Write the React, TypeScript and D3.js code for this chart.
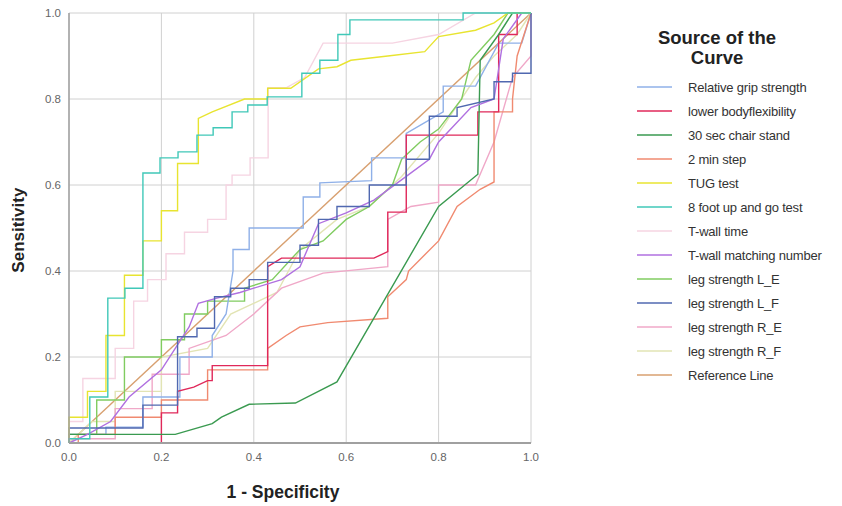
import * as d3 from "d3";

// ROC curves, [1 - specificity, sensitivity]
const gripStrength = [[0,0],[0,0.02],[0.08,0.02],[0.08,0.037],[0.16,0.037],[0.16,0.107],[0.24,0.107],[0.24,0.2],[0.31,0.2],[0.31,0.25],[0.34,0.3],[0.355,0.4],[0.355,0.45],[0.39,0.45],[0.39,0.5],[0.507,0.5],[0.507,0.572],[0.543,0.572],[0.543,0.605],[0.655,0.61],[0.655,0.663],[0.73,0.663],[0.73,0.72],[0.81,0.77],[0.81,0.83],[0.88,0.83],[0.93,0.93],[0.98,0.93],[1,1]];
const lowerBodyFlex = [[0,0],[0.2,0],[0.2,0.07],[0.235,0.07],[0.235,0.12],[0.27,0.13],[0.3,0.145],[0.31,0.145],[0.31,0.18],[0.43,0.18],[0.43,0.41],[0.46,0.43],[0.66,0.43],[0.69,0.445],[0.69,0.537],[0.73,0.537],[0.73,0.716],[0.885,0.716],[0.885,0.77],[0.93,0.77],[0.93,0.95],[0.97,0.95],[0.97,1],[1,1]];
const chairStand = [[0,0],[0,0.02],[0.23,0.02],[0.31,0.045],[0.33,0.06],[0.39,0.09],[0.49,0.093],[0.58,0.142],[0.8,0.55],[0.885,0.625],[0.89,0.89],[0.93,0.95],[0.96,1],[1,1]];
const minStep = [[0,0],[0.02,0],[0.02,0.02],[0.1,0.02],[0.1,0.06],[0.2,0.06],[0.2,0.1],[0.3,0.1],[0.3,0.17],[0.43,0.17],[0.43,0.22],[0.47,0.25],[0.5,0.27],[0.56,0.28],[0.69,0.29],[0.69,0.34],[0.73,0.38],[0.735,0.4],[0.8,0.47],[0.84,0.55],[0.89,0.59],[0.92,0.607],[0.92,0.77],[0.96,0.77],[0.96,0.8],[0.97,0.9],[1,1]];
const tugTest = [[0,0],[0,0.06],[0.04,0.06],[0.04,0.12],[0.08,0.12],[0.08,0.25],[0.12,0.25],[0.12,0.39],[0.16,0.39],[0.16,0.47],[0.2,0.47],[0.2,0.54],[0.235,0.54],[0.235,0.65],[0.28,0.65],[0.28,0.755],[0.31,0.77],[0.38,0.8],[0.43,0.8],[0.43,0.825],[0.48,0.825],[0.54,0.87],[0.58,0.875],[0.61,0.89],[0.69,0.9],[0.77,0.91],[0.8,0.945],[0.88,0.96],[0.92,0.977],[0.95,1],[1,1]];
const footUpGo = [[0,0],[0,0.01],[0.045,0.01],[0.045,0.107],[0.084,0.107],[0.084,0.337],[0.121,0.337],[0.121,0.36],[0.16,0.36],[0.16,0.628],[0.197,0.628],[0.197,0.663],[0.236,0.663],[0.236,0.677],[0.277,0.677],[0.277,0.716],[0.312,0.716],[0.312,0.733],[0.353,0.733],[0.353,0.77],[0.387,0.77],[0.387,0.786],[0.429,0.786],[0.429,0.805],[0.504,0.805],[0.504,0.86],[0.543,0.86],[0.543,0.89],[0.582,0.89],[0.582,0.95],[0.608,0.95],[0.608,0.984],[0.853,0.984],[0.853,1],[1,1]];
const twallTime = [[0,0],[0,0.05],[0.03,0.05],[0.03,0.15],[0.1,0.15],[0.1,0.22],[0.14,0.22],[0.14,0.33],[0.17,0.33],[0.17,0.38],[0.21,0.38],[0.21,0.44],[0.25,0.44],[0.25,0.49],[0.3,0.49],[0.3,0.52],[0.34,0.52],[0.34,0.6],[0.353,0.6],[0.353,0.623],[0.392,0.623],[0.392,0.663],[0.431,0.663],[0.431,0.826],[0.47,0.826],[0.51,0.85],[0.55,0.93],[0.7,0.93],[0.8,0.95],[0.88,1],[1,1]];
const twallMatching = [[0,0],[0.04,0.02],[0.09,0.05],[0.13,0.107],[0.2,0.17],[0.26,0.27],[0.28,0.325],[0.32,0.337],[0.37,0.35],[0.4,0.36],[0.46,0.38],[0.5,0.41],[0.54,0.51],[0.6,0.535],[0.66,0.565],[0.73,0.62],[0.78,0.66],[0.8,0.7],[0.87,0.78],[0.92,0.8],[0.94,0.94],[0.98,1],[1,1]];
const legLE = [[0,0],[0,0.02],[0.06,0.02],[0.06,0.1],[0.12,0.1],[0.12,0.2],[0.2,0.2],[0.2,0.24],[0.25,0.24],[0.25,0.3],[0.3,0.3],[0.3,0.33],[0.38,0.33],[0.38,0.36],[0.44,0.38],[0.5,0.45],[0.55,0.47],[0.6,0.52],[0.65,0.55],[0.7,0.6],[0.72,0.66],[0.76,0.7],[0.8,0.73],[0.85,0.8],[0.87,0.89],[0.92,0.95],[0.95,1],[1,1]];
const legLF = [[0,0],[0,0.035],[0.16,0.035],[0.16,0.088],[0.235,0.088],[0.235,0.247],[0.277,0.247],[0.277,0.267],[0.315,0.267],[0.315,0.34],[0.35,0.34],[0.35,0.36],[0.39,0.36],[0.39,0.38],[0.43,0.38],[0.43,0.42],[0.5,0.42],[0.5,0.46],[0.54,0.46],[0.54,0.52],[0.58,0.52],[0.58,0.55],[0.65,0.55],[0.65,0.6],[0.73,0.6],[0.73,0.66],[0.78,0.66],[0.78,0.76],[0.84,0.76],[0.84,0.78],[0.92,0.8],[0.92,0.84],[0.96,0.84],[0.96,0.86],[1,0.86],[1,1]];
const legRE = [[0,0],[0,0.01],[0.1,0.01],[0.1,0.08],[0.18,0.08],[0.18,0.16],[0.26,0.16],[0.26,0.22],[0.34,0.25],[0.4,0.3],[0.46,0.36],[0.55,0.395],[0.69,0.41],[0.69,0.52],[0.74,0.55],[0.8,0.56],[0.8,0.6],[0.88,0.6],[0.92,0.7],[0.96,0.85],[1,0.9],[1,1]];
const legRF = [[0,0],[0.05,0.05],[0.1,0.05],[0.1,0.12],[0.2,0.12],[0.2,0.2],[0.3,0.22],[0.35,0.3],[0.45,0.35],[0.5,0.45],[0.58,0.52],[0.65,0.55],[0.72,0.62],[0.8,0.72],[0.88,0.85],[0.92,0.9],[0.97,0.95],[1,1]];
const referenceLine = [[0,0],[1,1]];

const seriesNames = ["Relative grip strength","lower bodyflexibility","30 sec chair stand","2 min step","TUG test","8 foot up and go test","T-wall time","T-wall matching number","leg strength L_E","leg strength L_F","leg strength R_E","leg strength R_F","Reference Line"];
const seriesData = [gripStrength, lowerBodyFlex, chairStand, minStep, tugTest, footUpGo, twallTime, twallMatching, legLE, legLF, legRE, legRF, referenceLine];
const seriesColors = ["#8fb0e8","#e0285a","#3a9a50","#f08a70","#e8e430","#40c8b8","#f6d4e2","#b070e0","#80cc60","#5068b0","#f0a8c8","#e2e4b4","#d8a070"];
const ticks = [0, 0.2, 0.4, 0.6, 0.8, 1.0];

export default function App() {
  const x = d3.scaleLinear().domain([0, 1]).range([69, 531]);
  const y = d3.scaleLinear().domain([0, 1]).range([443, 13]);
  const line = d3.line<number[]>().x(d => x(d[0])).y(d => y(d[1]));
  const font = "'Liberation Sans', Arial, sans-serif";

  // draw order: reference line first, then the others
  const order = [12, 11, 6, 10, 8, 0, 3, 1, 2, 7, 9, 4, 5];

  return (
    <svg width={842} height={506} style={{position: "absolute", left: 0, top: 0, background: "#fff"}} fontFamily={font}>
      {ticks.map(t => (
        <g key={"g" + t}>
          <line x1={x(t)} x2={x(t)} y1={y(0)} y2={y(1)} stroke="#d0d0d0" strokeWidth={1} />
          <line x1={x(0)} x2={x(1)} y1={y(t)} y2={y(t)} stroke="#d0d0d0" strokeWidth={1} />
        </g>
      ))}
      {order.map(i => (
        <path key={seriesNames[i]} d={line(seriesData[i] as number[][]) || ""} fill="none" stroke={seriesColors[i]} strokeWidth={1.4} />
      ))}
      <line x1={x(0)} x2={x(0)} y1={y(0)} y2={y(1)} stroke="#a0a0a0" strokeWidth={1.5} />
      <line x1={x(0)} x2={x(1)} y1={y(0)} y2={y(0)} stroke="#a0a0a0" strokeWidth={2} />
      {ticks.map(t => (
        <text key={"yt" + t} x={61} y={y(t) + 4} textAnchor="end" fontSize={11.5} fill="#666">{t.toFixed(1)}</text>
      ))}
      {ticks.map(t => (
        <text key={"xt" + t} x={x(t)} y={461} textAnchor="middle" fontSize={11.5} fill="#666">{t.toFixed(1)}</text>
      ))}
      <text x={283} y={498} textAnchor="middle" fontSize={17.5} fontWeight="bold" fill="#222">1 - Specificity</text>
      <text transform={`translate(24,${y(0.495)}) rotate(-90)`} textAnchor="middle" fontSize={17} fontWeight="bold" fill="#222">Sensitivity</text>
      <text x={717} y={44} textAnchor="middle" fontSize={18.5} fontWeight="bold" fill="#222">Source of the</text>
      <text x={717} y={64} textAnchor="middle" fontSize={18.5} fontWeight="bold" fill="#222">Curve</text>
      {seriesNames.map((name, i) => (
        <g key={"lg" + i}>
          <line x1={637} x2={672} y1={87 + i * 24} y2={87 + i * 24} stroke={seriesColors[i]} strokeWidth={1.6} />
          <text x={688} y={91.5 + i * 24} fontSize={13} letterSpacing={-0.2} fill="#333">{name}</text>
        </g>
      ))}
    </svg>
  );
}
